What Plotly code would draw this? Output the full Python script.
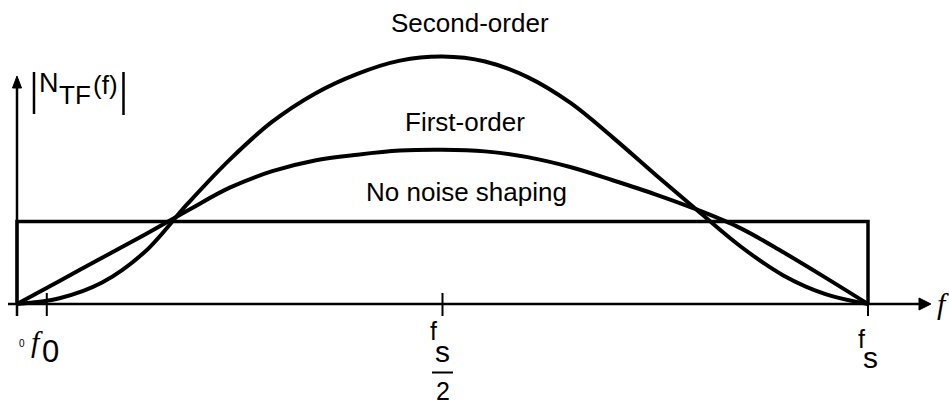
import plotly.graph_objects as go

# Noise transfer function magnitude versus frequency (f / fs)
f_grid = [0.00, 0.05, 0.10, 0.15, 0.20, 0.25, 0.30, 0.35, 0.40, 0.45, 0.50,
          0.55, 0.60, 0.65, 0.70, 0.75, 0.80, 0.85, 0.90, 0.95, 1.00]
ntf_first = [0.00, 0.28, 0.56, 0.84, 1.13, 1.41, 1.61, 1.74, 1.81, 1.86, 1.87,
             1.85, 1.78, 1.66, 1.50, 1.33, 1.14, 0.92, 0.63, 0.32, 0.00]
ntf_second = [0.00, 0.07, 0.26, 0.63, 1.21, 1.75, 2.21, 2.55, 2.79, 2.95, 3.00,
              2.94, 2.75, 2.44, 2.02, 1.57, 1.13, 0.70, 0.35, 0.12, 0.00]

flat_level = 1.0          # no noise shaping
band_edges = [0.0, 1.0]   # 0 .. fs

tick_positions = [0.0, 0.035, 0.5, 1.0]   # 0, f0, fs/2, fs
curve_names = ["Second-order", "First-order", "No noise shaping"]

W, H = 949, 405
X0_PX, XS_PX = 17, 868          # pixel columns of f = 0 and f = fs
Y0_PX, Y1_PX = 304, 221.5       # pixel rows of |NTF| = 0 and 1
sx = XS_PX - X0_PX
sy = Y0_PX - Y1_PX


def dx(px):
    return (px - X0_PX) / sx


def dy(py):
    return (Y0_PX - py) / sy


BLACK = "#000000"
SANS = "Liberation Sans, Arial, sans-serif"
SERIF = "Liberation Serif, Times New Roman, serif"

fig = go.Figure()

# flat quantisation-noise level (rectangle over 0..fs)
fig.add_trace(go.Scatter(
    x=[band_edges[0], band_edges[0], band_edges[1], band_edges[1]],
    y=[0, flat_level, flat_level, 0],
    mode="lines", line=dict(color=BLACK, width=3.5), hoverinfo="skip"))

fig.add_trace(go.Scatter(
    x=f_grid, y=ntf_first, mode="lines",
    line=dict(color=BLACK, width=4, shape="spline", smoothing=1.0), hoverinfo="skip"))

fig.add_trace(go.Scatter(
    x=f_grid, y=ntf_second, mode="lines",
    line=dict(color=BLACK, width=4, shape="spline", smoothing=1.0), hoverinfo="skip"))

shapes = []
# frequency axis with arrow
shapes.append(dict(type="line", x0=dx(8), x1=dx(922), y0=0, y1=0,
                   line=dict(color=BLACK, width=2.5), layer="above"))
shapes.append(dict(type="path",
                   path=f"M {dx(931)},0 L {dx(919)},{dy(298)} L {dx(919)},{dy(310)} Z",
                   fillcolor=BLACK, line=dict(color=BLACK, width=1)))
# magnitude axis with arrow
shapes.append(dict(type="line", x0=0, x1=0, y0=dy(316), y1=dy(85),
                   line=dict(color=BLACK, width=2.5), layer="above"))
shapes.append(dict(type="path",
                   path=f"M 0,{dy(76)} L {dx(12.5)},{dy(88)} L {dx(21.5)},{dy(88)} Z",
                   fillcolor=BLACK, line=dict(color=BLACK, width=1)))
# tick marks
for t in tick_positions:
    top = 0 if t in (0.0, 1.0) else dy(293)
    shapes.append(dict(type="line", x0=t, x1=t, y0=dy(316), y1=top,
                       line=dict(color=BLACK, width=2)))
# |...| bars around the axis title
shapes.append(dict(type="line", x0=dx(34), x1=dx(34), y0=dy(72), y1=dy(114),
                   line=dict(color=BLACK, width=2.5)))
shapes.append(dict(type="line", x0=dx(123.5), x1=dx(123.5), y0=dy(72), y1=dy(115),
                   line=dict(color=BLACK, width=2.5)))
# fraction bar of fs/2
shapes.append(dict(type="line", x0=dx(432), x1=dx(453), y0=dy(372.5), y1=dy(372.5),
                   line=dict(color=BLACK, width=2)))

annotations = []


def label(text, px, py, size, family=SANS):
    annotations.append(dict(text=text, x=dx(px), y=dy(py), xref="x", yref="y",
                            showarrow=False, xanchor="center", yanchor="middle",
                            font=dict(family=family, size=size, color=BLACK)))


# curve names
label(curve_names[0], 470, 23, 26)
label(curve_names[1], 465, 122, 26)
label(curve_names[2], 466, 192, 26)

# axis title |N_TF(f)|
label("N", 48.5, 82.5, 27)
label("TF", 75, 95, 26)
label("(f)", 105.5, 84.5, 26)

# frequency labels
label("0", 21.5, 343.5, 10)
label("<i>f</i>", 37, 341, 30, SERIF)
label("0", 50, 351.5, 31)

label("f", 433, 331, 25)
label("s", 442.5, 351.5, 30)
label("2", 442.5, 391, 25)

label("f", 861, 339, 25)
label("s", 870.5, 357.5, 30)

label("<i>f</i>", 943, 303, 30, SERIF)

fig.update_layout(
    width=W, height=H,
    margin=dict(l=0, r=0, t=0, b=0),
    paper_bgcolor="white", plot_bgcolor="white",
    showlegend=False,
    xaxis=dict(visible=False, range=[dx(0), dx(W)], fixedrange=True),
    yaxis=dict(visible=False, range=[dy(H), dy(0)], fixedrange=True),
    shapes=shapes, annotations=annotations,
)

fig.write_html("out.html")
